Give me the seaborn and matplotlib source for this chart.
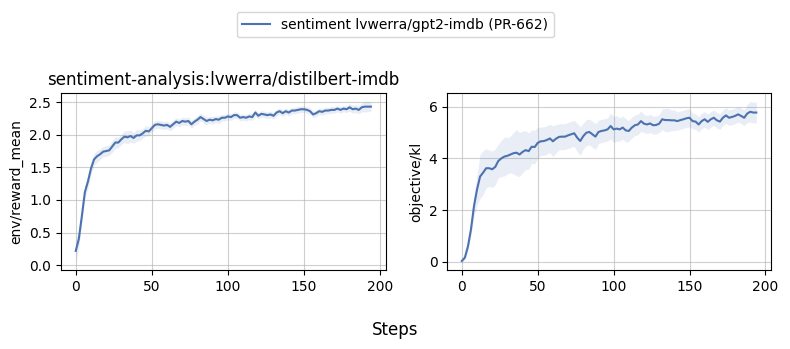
import matplotlib
matplotlib.use("Agg")
import matplotlib.pyplot as plt
import seaborn as sns
import numpy as np

# Training steps (logged every 2 steps)
steps = list(range(0, 196, 2))

# env/reward_mean: mean across runs and half-width of the shaded band
reward_mean = [
    0.22, 0.40, 0.75, 1.12, 1.28, 1.48, 1.62, 1.67, 1.70, 1.74,
    1.75, 1.76, 1.82, 1.88, 1.88, 1.93, 1.97, 1.96, 1.98, 1.95,
    1.99, 1.99, 2.02, 2.06, 2.05, 2.10, 2.15, 2.16, 2.15, 2.14,
    2.15, 2.12, 2.16, 2.20, 2.18, 2.21, 2.20, 2.21, 2.16, 2.20,
    2.23, 2.27, 2.24, 2.21, 2.23, 2.22, 2.24, 2.23, 2.26, 2.26,
    2.28, 2.27, 2.30, 2.30, 2.26, 2.27, 2.26, 2.28, 2.27, 2.34,
    2.29, 2.32, 2.31, 2.30, 2.31, 2.29, 2.34, 2.36, 2.33, 2.36,
    2.34, 2.37, 2.37, 2.38, 2.39, 2.39, 2.38, 2.36, 2.31, 2.33,
    2.36, 2.35, 2.37, 2.37, 2.38, 2.38, 2.40, 2.38, 2.40, 2.39,
    2.42, 2.39, 2.40, 2.38, 2.42, 2.43, 2.43, 2.43,
]
reward_spread = [
    0.17, 0.13, 0.10, 0.10, 0.10, 0.09, 0.09, 0.09, 0.08, 0.08,
    0.08, 0.08, 0.09, 0.09, 0.08, 0.08, 0.09, 0.10, 0.09, 0.08,
    0.09, 0.08, 0.07, 0.08, 0.07, 0.06, 0.06, 0.06, 0.06, 0.06,
    0.06, 0.06, 0.06, 0.06, 0.06, 0.06, 0.06, 0.06, 0.06, 0.06,
    0.06, 0.06, 0.06, 0.06, 0.05, 0.06, 0.05, 0.06, 0.05, 0.05,
    0.05, 0.05, 0.05, 0.05, 0.05, 0.05, 0.05, 0.05, 0.05, 0.05,
    0.05, 0.05, 0.05, 0.05, 0.05, 0.05, 0.05, 0.05, 0.05, 0.05,
    0.05, 0.05, 0.05, 0.05, 0.05, 0.05, 0.05, 0.05, 0.05, 0.05,
    0.05, 0.05, 0.05, 0.05, 0.05, 0.05, 0.05, 0.05, 0.05, 0.05,
    0.06, 0.06, 0.06, 0.06, 0.07, 0.08, 0.08, 0.07,
]

# objective/kl: mean across runs and half-width of the shaded band
kl_mean = [
    0.04, 0.17, 0.60, 1.26, 2.16, 2.80, 3.30, 3.45, 3.62, 3.62,
    3.58, 3.67, 3.90, 4.00, 4.07, 4.10, 4.15, 4.20, 4.22, 4.15,
    4.25, 4.32, 4.28, 4.45, 4.44, 4.60, 4.66, 4.67, 4.71, 4.77,
    4.66, 4.76, 4.83, 4.84, 4.84, 4.89, 4.93, 4.97, 4.80, 4.67,
    4.86, 4.99, 5.02, 4.93, 4.84, 5.02, 5.06, 5.08, 5.12, 5.25,
    5.12, 5.15, 5.12, 5.19, 5.08, 5.06, 5.19, 5.28, 5.31, 5.44,
    5.34, 5.31, 5.35, 5.28, 5.29, 5.34, 5.51, 5.48, 5.48, 5.47,
    5.47, 5.44, 5.48, 5.51, 5.55, 5.57, 5.44, 5.42, 5.31, 5.44,
    5.51, 5.41, 5.51, 5.57, 5.47, 5.42, 5.57, 5.66, 5.57, 5.60,
    5.64, 5.70, 5.64, 5.57, 5.73, 5.80, 5.77, 5.77,
]
kl_spread = [
    0.04, 0.08, 0.15, 0.25, 0.40, 0.60, 0.85, 0.85, 0.75, 0.70,
    0.70, 0.70, 0.65, 0.70, 0.75, 0.70, 0.70, 0.80, 0.90, 0.85,
    0.80, 0.75, 0.70, 0.65, 0.65, 0.60, 0.55, 0.55, 0.55, 0.55,
    0.60, 0.55, 0.50, 0.50, 0.50, 0.50, 0.50, 0.50, 0.55, 0.55,
    0.50, 0.50, 0.50, 0.50, 0.50, 0.45, 0.45, 0.45, 0.45, 0.50,
    0.50, 0.50, 0.45, 0.45, 0.45, 0.40, 0.40, 0.40, 0.40, 0.40,
    0.35, 0.35, 0.35, 0.35, 0.35, 0.35, 0.40, 0.45, 0.45, 0.40,
    0.40, 0.35, 0.35, 0.35, 0.35, 0.35, 0.30, 0.30, 0.30, 0.30,
    0.30, 0.30, 0.30, 0.30, 0.30, 0.30, 0.30, 0.30, 0.30, 0.30,
    0.30, 0.30, 0.30, 0.30, 0.35, 0.40, 0.40, 0.40,
]

series_label = "sentiment lvwerra/gpt2-imdb (PR-662)"
left_title = "sentiment-analysis:lvwerra/distilbert-imdb"
color = sns.color_palette("deep")[0]

fig = plt.figure(figsize=(7.9, 3.49), dpi=100)
ax1 = fig.add_axes([0.0772, 0.2264, 0.411, 0.506])
ax2 = fig.add_axes([0.566, 0.2264, 0.410, 0.506])

panels = [
    (ax1, reward_mean, reward_spread, "env/reward_mean"),
    (ax2, kl_mean, kl_spread, "objective/kl"),
]
for ax, mean, spread, ylab in panels:
    m = np.asarray(mean)
    s = np.asarray(spread)
    sns.lineplot(x=steps, y=mean, ax=ax, color=color, linewidth=1.5,
                 label=series_label, legend=False)
    ax.fill_between(steps, m - s, m + s, color=color, alpha=0.12, linewidth=0)
    ax.set_ylabel(ylab)
    ax.set_xlabel("")
    ax.set_xticks([0, 50, 100, 150, 200])
    ax.grid(True, color="#b0b0b0", alpha=0.6, linewidth=0.8)
    ax.set_axisbelow(True)

ax1.set_yticks([0.0, 0.5, 1.0, 1.5, 2.0, 2.5])
ax2.set_yticks([0, 2, 4, 6])
ax1.set_title(left_title, fontsize=12)

handles, labels = ax1.get_legend_handles_labels()
fig.legend(handles[:1], labels[:1], loc="upper center",
           bbox_to_anchor=(0.5, 0.985), fontsize=10)
fig.supxlabel("Steps", y=0.03, fontsize=12)

fig.savefig("out.png", dpi=100)
